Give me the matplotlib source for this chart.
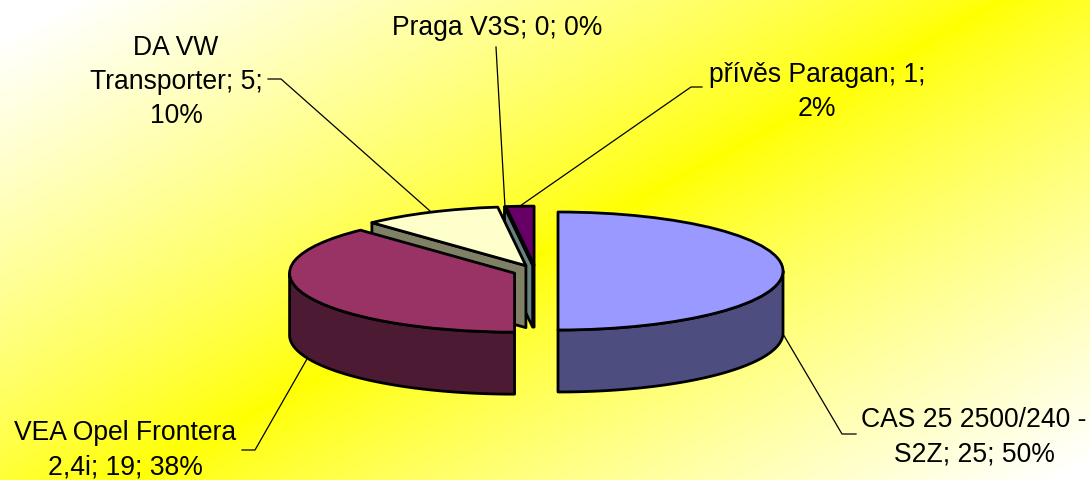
import matplotlib
matplotlib.use('Agg')
import matplotlib.pyplot as plt
import numpy as np

# Chart values
categories = ['CAS 25 2500/240 -\nS2Z', 'VEA Opel Frontera\n2,4i', 'DA VW\nTransporter', 'Praga V3S', 'přívěs Paragan']
values = [25, 19, 5, 0, 1]
percents = [50, 38, 10, 0, 2]
colors = ['#9999FF', '#993366', '#FFFFCC', '#CCFFFF', '#660066']
label_text = ['CAS 25 2500/240 -\nS2Z; 25; 50%', 'VEA Opel Frontera\n2,4i; 19; 38%',
              'DA VW\nTransporter; 5;\n10%', 'Praga V3S; 0; 0%', 'přívěs Paragan; 1;\n2%']

W, H = 1090, 481
cx, cy = 535.5, 272   # pie centre in pixels
rx, ry = 225, 59    # ellipse radii in pixels
depth = 62 / ry     # wall height in data units

plt.rcParams['font.family'] = ['Liberation Sans', 'DejaVu Sans']

fig = plt.figure(figsize=(W / 100, H / 100), dpi=100)
ax = fig.add_axes([0, 0, 1, 1])


def px(x, y):
    # pixel position in the picture to data units of the squashed pie
    return (x - cx) / rx, (cy - y) / ry


# Pie top faces
wedges, _ = ax.pie(values, colors=colors, explode=[0.1] * 5, startangle=90, counterclock=False,
                   wedgeprops={'edgecolor': 'black', 'linewidth': 2.0, 'joinstyle': 'round'})
ax.set_aspect('auto')
xlim = (-cx / rx, (W - cx) / rx)
ylim = ((cy - H) / ry, cy / ry)

# Diagonal white-yellow-white background
gx, gy = np.meshgrid(np.arange(W), np.arange(H))
t = np.clip((np.abs(gy + 0.55 * gx - 552) / 510) ** 0.8, 0, 1)
bg = np.dstack([np.ones_like(t), np.ones_like(t), t])
ax.imshow(bg, extent=xlim + ylim, origin='upper', aspect='auto', zorder=-1)
ax.set_xlim(xlim)
ax.set_ylim(ylim)
ax.axis('off')

# Side walls, back slices first
for i, w in enumerate(wedges):
    z = (len(wedges) - i) * 10
    w.set_zorder(z + 1)
    dark = tuple(c * 0.5 for c in matplotlib.colors.to_rgb(colors[i]))
    x0, y0 = w.center
    th1, th2 = w.theta1, w.theta2

    # outer rim, only the part facing the viewer
    lo, hi = max(th1, -180), min(th2, 0)
    if hi > lo:
        a = np.radians(np.linspace(lo, hi, 80))
        xs = x0 + np.cos(a)
        ys = y0 + np.sin(a)
        ax.fill(np.r_[xs, xs[::-1]], np.r_[ys, ys[::-1] - depth], facecolor=dark, edgecolor='black',
                linewidth=2.0, joinstyle='round', zorder=z)

    # cut face on the clockwise end
    if np.sin(np.radians(th2 + 90)) < -1e-6:
        a = np.radians(th2)
        xe, ye = x0 + np.cos(a), y0 + np.sin(a)
        ax.fill([x0, xe, xe, x0], [y0, ye, ye - depth, y0 - depth], facecolor=dark, edgecolor='black',
                linewidth=2.0, joinstyle='round', zorder=z)

# Leader lines
leaders = [[(856, 435), (842, 435), (783, 335)],
           [(242, 451), (255, 451), (307, 360)],
           [(268, 80), (281, 80), (430, 212)],
           [(496, 48), (505, 208)],
           [(702, 88), (691, 88), (520, 207)]]
for pts in leaders:
    xy = np.array([px(*p) for p in pts])
    ax.plot(xy[:, 0], xy[:, 1], color='black', lw=0.9, zorder=100)

# Data labels
label_pos = [(974, 437), (125, 450), (176, 82), (497, 28), (817, 92)]
for s, p in zip(label_text, label_pos):
    x, y = px(*p)
    ax.text(x, y, s, ha='center', va='center', fontsize=19.1, color='black', linespacing=1.42, zorder=101)

fig.savefig('out.png', dpi=100)
plt.close()
